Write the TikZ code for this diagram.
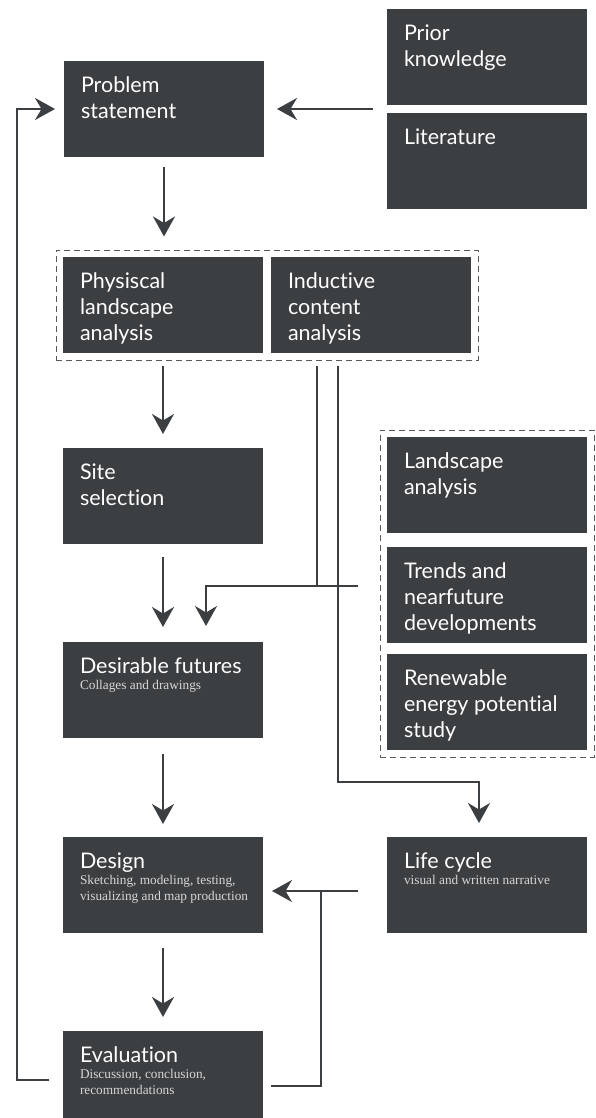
\documentclass[tikz,border=0pt]{standalone}
\usepackage{fontspec}
\setmainfont{Liberation Serif}
\newfontfamily\headfont[Ligatures=NoCommon]{Lato}
\usetikzlibrary{arrows.meta,fit}
\definecolor{boxgray}{HTML}{3C3F42}
\definecolor{subgray}{HTML}{D6D6D6}
\newcommand{\blk}[2]{\parbox[c][96pt][t]{200pt}{\raggedright\leftskip=17pt\headfont\fontsize{21.5}{26}\selectfont\rule{0pt}{31.5pt}#1\par\rmfamily\fontsize{13.3}{16}\selectfont\color{subgray}#2}}
\tikzset{block/.style={fill=boxgray,text=white,anchor=north west,inner sep=0pt,outer sep=0pt},
	grp/.style={draw=black!65,dash pattern=on 6pt off 4pt,line width=1pt,inner sep=7pt},
	ln/.style={draw=boxgray,line width=2.4pt}}
\begin{document}
\begin{tikzpicture}[x=1pt,y=-1pt,>={Stealth[length=20pt,width=22pt,inset=6.5pt]}]
	\clip (0,0) rectangle (596,1118);
	% boxes
	\node[block] (prob) at (64,61) {\blk{Problem\\statement}{}};
	\node[block] (prior) at (387,9) {\blk{Prior\\knowledge}{}};
	\node[block] (lit) at (387,113) {\blk{Literature}{}};
	\node[block] (phys) at (63,257) {\blk{Physiscal\\landscape\\analysis}{}};
	\node[block] (induc) at (271,257) {\blk{Inductive\\content\\analysis}{}};
	\node[block] (site) at (63,448) {\blk{Site\\selection}{}};
	\node[block] (lscape) at (387,437) {\blk{Landscape\\analysis}{}};
	\node[block] (trends) at (387,547) {\blk{Trends and\\nearfuture\\developments}{}};
	\node[block] (renew) at (387,654) {\blk{Renewable\\energy potential\\study}{}};
	\node[block] (desir) at (63,642) {\blk{Desirable futures}{Collages and drawings}};
	\node[block] (design) at (63,837) {\blk{Design}{Sketching, modeling, testing,\\visualizing and map production}};
	\node[block] (life) at (387,837) {\blk{Life cycle}{visual and written narrative}};
	\node[block] (eval) at (63,1031) {\blk{Evaluation}{Discussion, conclusion,\\recommendations}};
	% dashed groups
	\node[grp,fit=(phys)(induc)] (grpa) {};
	\node[grp,fit=(lscape)(renew)] (grpb) {};
	% main chain
	\draw[ln,->,shorten <=14pt,shorten >=13pt] (prob.east -| lit.west) -- (prob.east);
	\draw[ln,->,shorten <=10pt,shorten >=13pt] (prob.south) -- (prob.south |- grpa.north);
	\draw[ln,->,shorten <=13pt,shorten >=14pt] (phys.south) -- (site.north);
	\draw[ln,->,shorten <=13pt,shorten >=15pt] (site.south) -- (desir.north);
	\draw[ln,->,shorten <=16pt,shorten >=13pt] (desir.south) -- (design.north);
	\draw[ln,->,shorten <=15pt,shorten >=14pt] (design.south) -- (eval.north);
	% side branches
	\coordinate (ia) at (317,366);
	\coordinate (ib) at (338,366);
	\coordinate (tr) at (358,586);
	\coordinate (lc) at (479,782);
	\coordinate (lf) at (358,891);
	\coordinate (ev) at (271,1086);
	\coordinate (el) at (49,1080);
	\draw[ln] (ia) -- (ia |- tr);
	\draw[ln,->,shorten >=16pt] (tr) -| ([xshift=43pt]desir.north);
	\draw[ln,->,shorten >=14pt] (ib) |- (lc) -- (lc |- life.north);
	\draw[ln,->,shorten >=9pt] (lf) -- (design.east |- lf);
	\draw[ln] (ev) -| ([xshift=-37pt]lf);
	\draw[ln,->,shorten >=9pt] (el) -| ([xshift=-47pt]prob.west) -- (prob.west);
\end{tikzpicture}
\end{document}
